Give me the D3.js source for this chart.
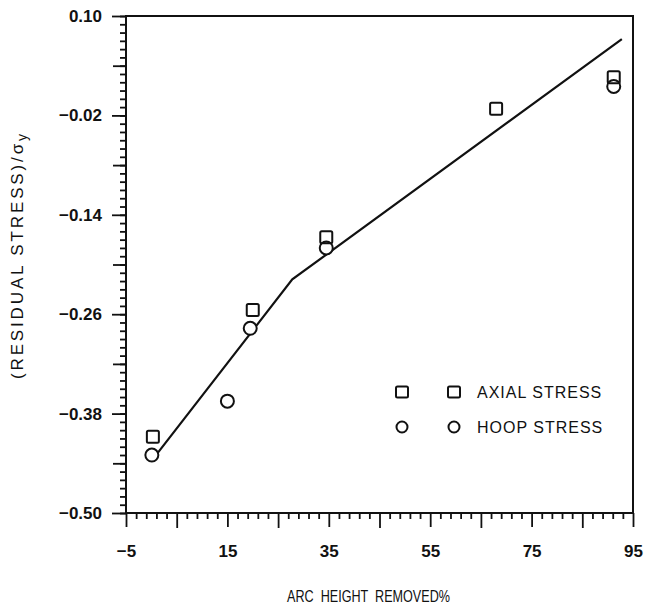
<!DOCTYPE html>
<html>
<head>
    <title>Residual stress vs arc height removed</title>
    <style>
        body { margin: 0; background: #fff; }
        svg { display: block; }
        .tick-label { font-family: "Liberation Sans", Arial, sans-serif; font-size: 17px; font-weight: bold; fill: #111; }
        .axis-title { font-family: "Liberation Sans", Arial, sans-serif; font-size: 17px; fill: #111; }
        .legend-text { font-family: "Liberation Sans", Arial, sans-serif; font-size: 16px; fill: #111; letter-spacing: 1px; }
    </style>
</head>
<body>
    <div id="chart"></div>

    <script src="https://d3js.org/d3.v7.min.js"></script>
    <script>
        // Values
        const axialArc = [0.3, 20, 34.5, 68, 91.2];
        const axialStress = [-0.408, -0.255, -0.167, -0.012, 0.026];
        const hoopArc = [0.1, 15, 19.5, 34.5, 91.2];
        const hoopStress = [-0.430, -0.365, -0.277, -0.180, 0.015];
        const fitArc = [0.8, 27.8, 92.8];
        const fitStress = [-0.431, -0.218, 0.072];

        const xTickValues = [-5, 15, 35, 55, 75, 95];
        const xTickLabels = ["\u22125", "15", "35", "55", "75", "95"];
        const yTickValues = [0.10, -0.02, -0.14, -0.26, -0.38, -0.50];
        const yTickLabels = ["0.10", "\u22120.02", "\u22120.14", "\u22120.26", "\u22120.38", "\u22120.50"];
        const legendLabels = ["AXIAL STRESS", "HOOP STRESS"];

        const width = 645, height = 610;

        const svg = d3.select("#chart").append("svg")
            .attr("width", width)
            .attr("height", height);

        const x = d3.scaleLinear().domain([-5, 95]).range([126, 633]);
        const y = d3.scaleLinear().domain([-0.5, 0.1]).range([513, 16]);

        // minor / medium tick positions
        const xMinor = d3.range(-5, 96, 2).filter(v => (v + 5) % 10 !== 0);
        const xMedium = d3.range(5, 95, 20);
        const yMinor = d3.range(0, 61).map(i => +(-0.5 + i * 0.01).toFixed(2));
        const yMedium = d3.range(0, 5).map(i => +(-0.44 + i * 0.12).toFixed(2));

        function tickGroup(axis, transform) {
            const g = svg.append("g").attr("transform", transform).call(axis);
            g.select(".domain").remove();
            g.selectAll("line").attr("stroke", "#111").attr("stroke-width", 1.8);
            return g;
        }

        // x axis ticks
        tickGroup(d3.axisBottom(x).tickValues(xMinor).tickSize(6).tickFormat(""), "translate(0,513)");
        tickGroup(d3.axisBottom(x).tickValues(xMedium).tickSize(15).tickFormat(""), "translate(0,513)");
        const xMajor = tickGroup(d3.axisBottom(x).tickValues(xTickValues).tickSize(14)
            .tickFormat((d, i) => xTickLabels[i]).tickPadding(18), "translate(0,513)");
        xMajor.selectAll("text").attr("class", "tick-label").attr("fill", null);

        // y axis ticks
        tickGroup(d3.axisLeft(y).tickValues(yMinor).tickSize(6).tickFormat(""), "translate(126,0)");
        tickGroup(d3.axisLeft(y).tickValues(yMedium).tickSize(13).tickFormat(""), "translate(126,0)");
        const yMajor = tickGroup(d3.axisLeft(y).tickValues(yTickValues).tickSize(14)
            .tickFormat((d, i) => yTickLabels[i]).tickPadding(10), "translate(126,0)");
        yMajor.selectAll("text").attr("class", "tick-label").attr("fill", null);

        // frame
        svg.append("rect")
            .attr("x", x(-5)).attr("y", y(0.1))
            .attr("width", x(95) - x(-5)).attr("height", y(-0.5) - y(0.1))
            .attr("fill", "none").attr("stroke", "#111").attr("stroke-width", 2);

        // fitted line
        const line = d3.line().x(d => x(d[0])).y(d => y(d[1]));
        svg.append("path")
            .datum(d3.zip(fitArc, fitStress))
            .attr("d", line)
            .attr("fill", "none")
            .attr("stroke", "#111")
            .attr("stroke-width", 2.2);

        // hoop stress circles
        svg.selectAll(".hoop")
            .data(d3.zip(hoopArc, hoopStress))
            .enter().append("circle")
            .attr("class", "hoop")
            .attr("cx", d => x(d[0]))
            .attr("cy", d => y(d[1]))
            .attr("r", 6.5)
            .attr("fill", "#fff")
            .attr("stroke", "#111")
            .attr("stroke-width", 2);

        // axial stress squares
        svg.selectAll(".axial")
            .data(d3.zip(axialArc, axialStress))
            .enter().append("rect")
            .attr("class", "axial")
            .attr("x", d => x(d[0]) - 6)
            .attr("y", d => y(d[1]) - 6)
            .attr("width", 12)
            .attr("height", 12)
            .attr("rx", 1.5)
            .attr("fill", "none")
            .attr("stroke", "#111")
            .attr("stroke-width", 2);

        // legend
        const legend = svg.append("g");
        [402, 454].forEach(lx => {
            legend.append("rect")
                .attr("x", lx - 6).attr("y", 392 - 5.5)
                .attr("width", 12).attr("height", 11).attr("rx", 1.5)
                .attr("fill", "none").attr("stroke", "#111").attr("stroke-width", 2);
            legend.append("circle")
                .attr("cx", lx).attr("cy", 427).attr("r", 5.5)
                .attr("fill", "none").attr("stroke", "#111").attr("stroke-width", 2);
        });
        legend.selectAll("text")
            .data(legendLabels)
            .enter().append("text")
            .attr("class", "legend-text")
            .attr("x", 477)
            .attr("y", (d, i) => 398 + i * 35)
            .text(d => d);

        // axis titles (narrow plotter lettering)
        svg.append("text")
            .attr("class", "axis-title")
            .attr("x", 287)
            .attr("y", 602)
            .attr("textLength", 163)
            .attr("lengthAdjust", "spacingAndGlyphs")
            .attr("xml:space", "preserve")
            .text("ARC  HEIGHT  REMOVED%");

        const yTitle = svg.append("text")
            .attr("class", "axis-title")
            .attr("transform", "translate(23,379) rotate(-90)")
            .attr("textLength", 245)
            .attr("lengthAdjust", "spacing");
        yTitle.append("tspan").text("(RESIDUAL STRESS)/\u03c3");
        yTitle.append("tspan").attr("baseline-shift", "-25%").attr("font-size", "14px").text("y");
    </script>
</body>
</html>
